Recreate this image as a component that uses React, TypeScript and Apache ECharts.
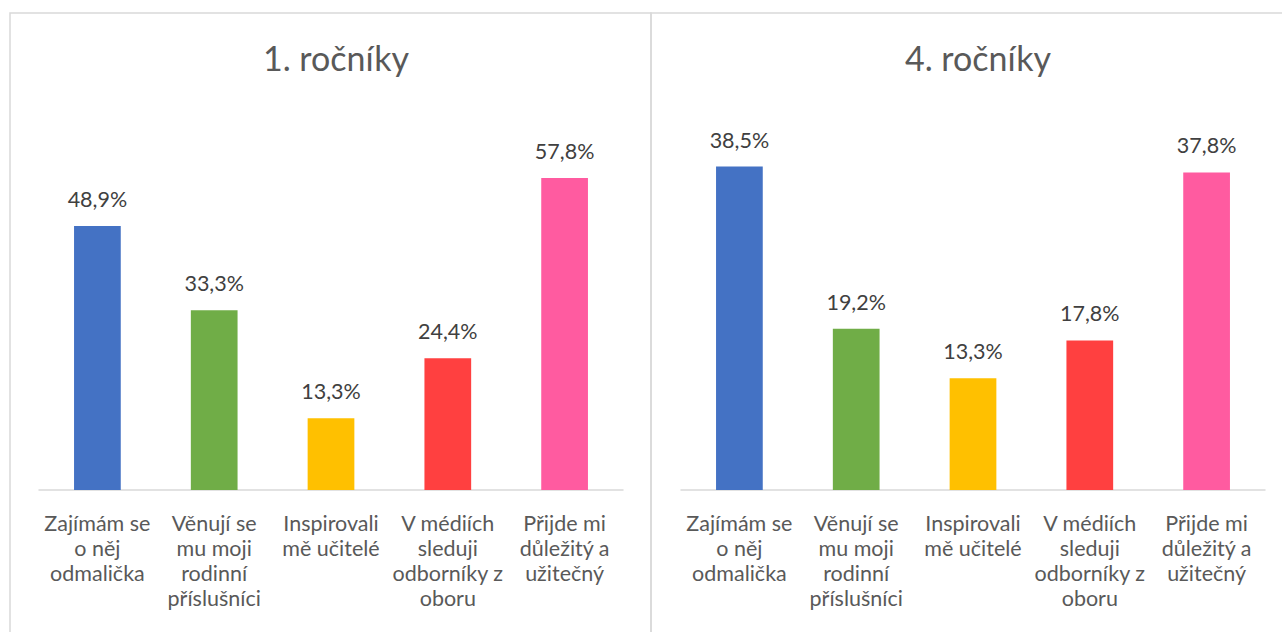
import React, { useEffect, useRef } from "react";
import * as echarts from "echarts";

const categories = [
  "Zajímám se\no něj\nodmalička",
  "Věnují se\nmu moji\nrodinní\npříslušníci",
  "Inspirovali\nmě učitelé",
  "V médiích\nsleduji\nodborníky z\noboru",
  "Přijde mi\ndůležitý a\nužitečný",
];
const barColors = ["#4472C4", "#70AD47", "#FFC000", "#FF4040", "#FF5BA0"];
const titles = ["1. ročníky", "4. ročníky"];
const values1 = [48.9, 33.3, 13.3, 24.4, 57.8];
const values4 = [38.5, 19.2, 13.3, 17.8, 37.8];

const FONT = "Lato, 'Open Sans', sans-serif";

export default function App() {
  const ref = useRef<HTMLDivElement>(null);
  useEffect(() => {
    if (!ref.current) return;
    const chart = echarts.init(ref.current, undefined, { renderer: "svg" });
    const mkX = (gi: number) => ({
      type: "category" as const,
      gridIndex: gi,
      data: categories,
      axisTick: { show: false },
      axisLine: { lineStyle: { color: "#D9D9D9", width: 1.5 } },
      axisLabel: {
        interval: 0,
        fontSize: 21.5,
        lineHeight: 25,
        color: "#595959",
        fontFamily: FONT,
        margin: 20,
      },
    });
    const mkY = (gi: number, max: number) => ({
      type: "value" as const,
      gridIndex: gi,
      min: 0,
      max,
      show: false,
      splitLine: { show: false },
    });
    const mkSeries = (gi: number, vals: number[]) => ({
      type: "bar" as const,
      xAxisIndex: gi,
      yAxisIndex: gi,
      barCategoryGap: "60%",
      data: vals.map((v, i) => ({ value: v, itemStyle: { color: barColors[i] } })),
      label: {
        show: true,
        position: "top" as const,
        distance: 16,
        fontSize: 21.5,
        color: "#404040",
        fontFamily: FONT,
        formatter: (p: any) => p.value.toFixed(1).replace(".", ",") + "%",
      },
    });
    const titleStyle = { fontSize: 34, fontWeight: "normal", color: "#595959", fontFamily: FONT };
    chart.setOption({
      animation: false,
      backgroundColor: "#FFFFFF",
      title: [
        { text: titles[0], left: 331, top: 35, textAlign: "center", textStyle: titleStyle },
        { text: titles[1], left: 973, top: 35, textAlign: "center", textStyle: titleStyle },
      ],
      graphic: [
        {
          type: "rect",
          shape: { x: 10, y: 13, width: 641, height: 640 },
          style: { fill: "none", stroke: "#D9D9D9", lineWidth: 1.5 },
          silent: true,
        },
        {
          type: "rect",
          shape: { x: 651, y: 13, width: 640, height: 640 },
          style: { fill: "none", stroke: "#D9D9D9", lineWidth: 1.5 },
          silent: true,
        },
      ],
      grid: [
        { left: 39, width: 584, top: 112, height: 378 },
        { left: 681, width: 584, top: 112, height: 378 },
      ],
      xAxis: [mkX(0), mkX(1)],
      yAxis: [mkY(0, 70), mkY(1, 45)],
      series: [mkSeries(0, values1), mkSeries(1, values4)],
    });
    return () => chart.dispose();
  }, []);
  return (
    <div
      ref={ref}
      style={{ position: "fixed", left: 0, top: 0, width: 1282, height: 632 }}
    />
  );
}
